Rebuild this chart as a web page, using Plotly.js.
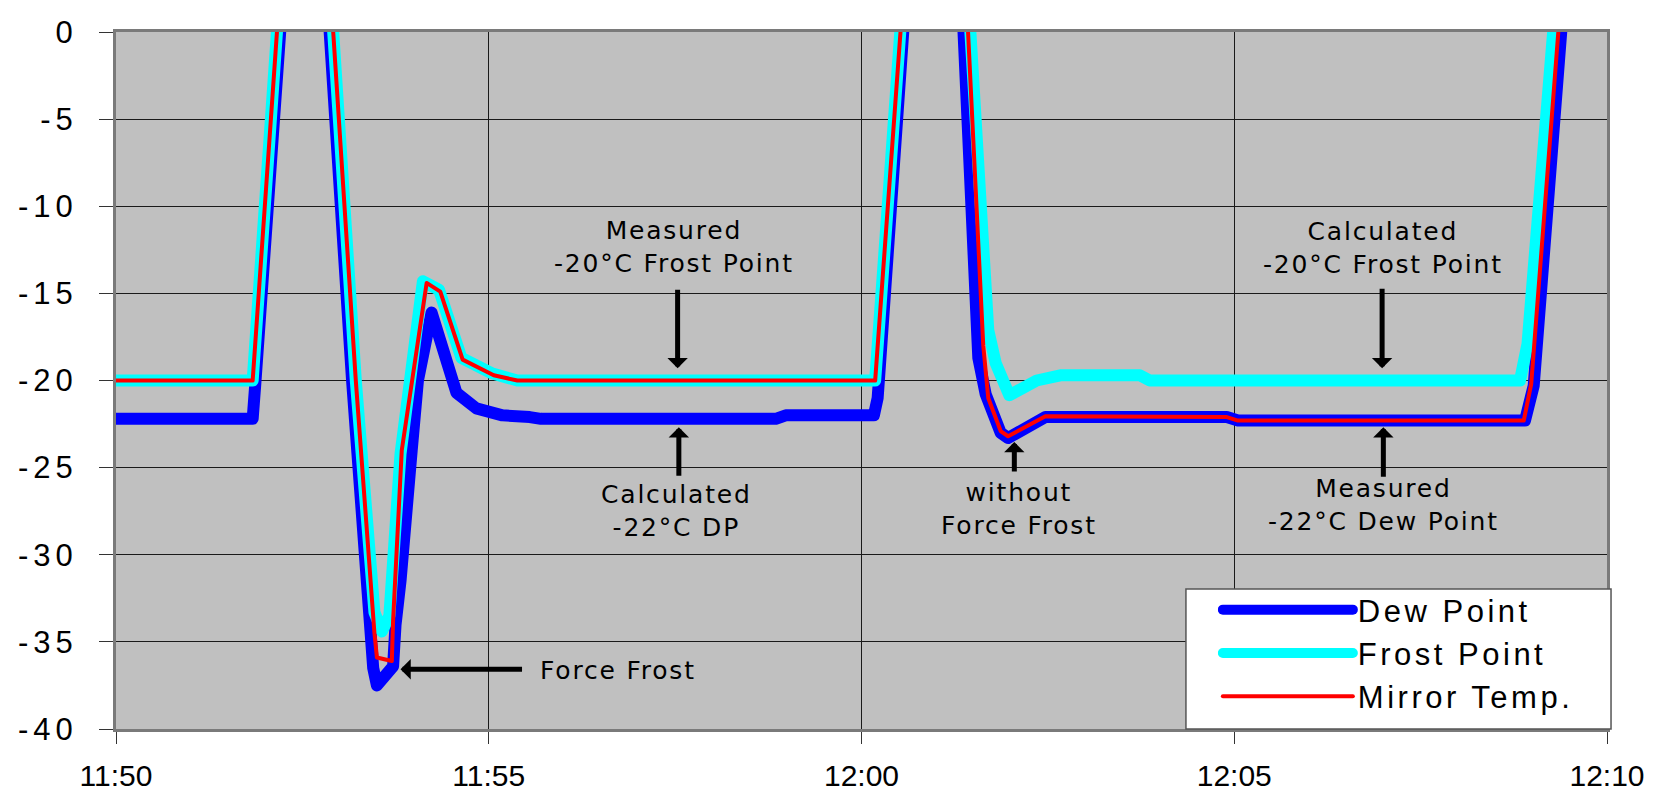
<!DOCTYPE html>
<html><head><meta charset="utf-8">
<script src="https://cdn.plot.ly/plotly-3.0.1.min.js"></script>
<style>
html,body{margin:0;padding:0;background:#fff;}
#chart{width:1654px;height:796px;}
.legendtext{letter-spacing:3.5px;}
.annotation-text{letter-spacing:1.8px;}
.ytick text{letter-spacing:5px;}
.scatterlayer .js-line{stroke-linejoin:round;}
.legendlines path{stroke-linecap:round;}
</style></head><body><div id="chart"></div>
<script>
const DAY = '2024-01-01 ';

// Dew Point (blue)
const dewTimes = ['11:50:00','11:51:50','11:51:52','11:52:33','11:53:10','11:53:24','11:53:27','11:53:30','11:53:43','11:53:45','11:53:49','11:53:58','11:54:03','11:54:14','11:54:26','11:54:34','11:54:50','11:55:11','11:55:33','11:55:42','11:58:51','11:58:59','12:00:10','12:00:13','12:01:03','12:01:34','12:01:40','12:01:43','12:01:52','12:01:58','12:02:28','12:04:54','12:05:03','12:08:54','12:09:01','12:09:57'];
const dewValues = [-22.2,-22.2,-20.3,21,-20.0,-34.5,-36.5,-37.5,-36.4,-34.0,-31.5,-24.0,-20.0,-16.1,-18.8,-20.7,-21.6,-22.0,-22.1,-22.2,-22.2,-22.0,-22.0,-21.0,30,-18.7,-20.8,-21.4,-23.0,-23.3,-22.1,-22.1,-22.3,-22.3,-20.3,31];

// Frost Point (cyan)
const frostTimes = ['11:50:00','11:51:50','11:52:33','11:53:13','11:53:28','11:53:34','11:53:40','11:53:49','11:54:07','11:54:20','11:54:38','11:55:03','11:55:23','12:00:11','12:01:02','12:01:42','12:01:48','12:01:59','12:02:21','12:02:40','12:03:44','12:03:52','12:08:50','12:08:56','12:09:57'];
const frostValues = [-20,-20,24,-20,-33.3,-34.4,-33.5,-24.2,-14.3,-14.8,-18.7,-19.6,-20.0,-20.0,30.5,-17.1,-19.0,-20.85,-20.0,-19.7,-19.7,-20.0,-20.0,-17.9,35];

// Mirror Temp. (red)
const mirrorTimes = ['11:50:00','11:51:50','11:52:33','11:53:13','11:53:28','11:53:30','11:53:42','11:53:43','11:53:50','11:54:10','11:54:21','11:54:39','11:55:04','11:55:23','12:00:11','12:01:04','12:01:38','12:01:42','12:01:52','12:01:58','12:02:28','12:04:54','12:05:03','12:08:53','12:08:59','12:09:57'];
const mirrorValues = [-20,-20,24,-20,-34.5,-35.9,-36.1,-33.8,-24.0,-14.4,-14.9,-18.8,-19.7,-20.0,-20.0,32,-18.0,-21.0,-22.9,-23.2,-22.05,-22.1,-22.3,-22.3,-20.2,33.5];

const seriesNames = ['Dew Point','Frost Point','Mirror Temp.'];
const yTicks = [0,-5,-10,-15,-20,-25,-30,-35,-40];
const yTickLabels = ['0','-5','-10','-15','-20','-25','-30','-35','-40'];
const xTickTimes = ['11:50','11:55','12:00','12:05','12:10'];

// Annotation texts and anchor positions (time, value)
const noteTexts = ['Measured<br>-20°C Frost Point','Calculated<br>-22°C DP','without<br>Force Frost','Calculated<br>-20°C Frost Point','Measured<br>-22°C Dew Point','Force Frost'];
const noteTimes = ['11:57:29','11:57:31','12:02:07','12:07:00','12:07:00','11:55:40'];
const noteValues = [-12.35,-27.47,-27.36,-12.37,-27.15,-36.62];
const arrowTimes = ['11:57:32','11:57:33','12:02:03','12:06:59','12:07:00','11:53:49'];
const arrowValues = [-19.3,-22.68,-23.53,-19.3,-22.68,-36.57];
const arrowDx = [0,0,0,0,0,123];
const arrowDy = [-80,50,31,-81,51,0];

const ts = a => a.map(t => DAY + t);

const traces = [
  {x: ts(dewTimes), y: dewValues, name: seriesNames[0], type:'scatter', mode:'lines', line:{color:'#0000FF', width:12}},
  {x: ts(frostTimes), y: frostValues, name: seriesNames[1], type:'scatter', mode:'lines', line:{color:'#00FFFF', width:12}},
  {x: ts(mirrorTimes), y: mirrorValues, name: seriesNames[2], type:'scatter', mode:'lines', line:{color:'#FF0000', width:4}}
];

const annFont = {family:'DejaVu Sans, Verdana, sans-serif', size:25, color:'#000'};
const annotations = [];
noteTexts.forEach((t,i) => {
  annotations.push({x: DAY+noteTimes[i], y: noteValues[i], xref:'x', yref:'y', text:t, showarrow:false,
    xanchor: i===5 ? 'left' : 'center', yanchor:'middle', align:'center', font:annFont});
  annotations.push({x: DAY+arrowTimes[i], y: arrowValues[i], xref:'x', yref:'y', text:'', showarrow:true,
    ax: arrowDx[i], ay: arrowDy[i], arrowhead:1, arrowwidth:5, arrowsize:0.68, arrowcolor:'#000', standoff:0});
});

const yTickFont = {family:'Liberation Sans, Arial, sans-serif', size:31, color:'#000'};
const xTickFont = {family:'Liberation Sans, Arial, sans-serif', size:30, color:'#000'};

const layout = {
  width:1654, height:796,
  margin:{l:116, r:47, t:32, b:67, pad:0},
  paper_bgcolor:'#FFFFFF', plot_bgcolor:'#C0C0C0',
  showlegend:true,
  legend:{x:0.739, xanchor:'left', y:0.2095, yanchor:'top', bgcolor:'rgba(0,0,0,0)', borderwidth:0,
    font:{family:'Liberation Sans, Arial, sans-serif', size:31, color:'#000'}, itemwidth:130, tracegroupgap:0},
  xaxis:{type:'date', range:[DAY+'11:50:00', DAY+'12:10:00'],
    tickvals: ts(xTickTimes), tickformat:'%H:%M',
    ticks:'outside', ticklen:12, tickwidth:1, tickcolor:'#333',
    showgrid:true, gridcolor:'#1a1a1a', gridwidth:1,
    showline:true, linecolor:'#7a7a7a', linewidth:3, mirror:true, zeroline:false,
    tickfont:xTickFont, ticklabelstandoff:6, fixedrange:true},
  yaxis:{range:[-40,0], tickvals:yTicks, ticktext:yTickLabels,
    ticks:'outside', ticklen:14, tickwidth:1, tickcolor:'#333',
    showgrid:true, gridcolor:'#1a1a1a', gridwidth:1,
    showline:true, linecolor:'#7a7a7a', linewidth:3, mirror:true, zeroline:false,
    tickfont:yTickFont, ticklabelstandoff:15, fixedrange:true},
  shapes:[{type:'rect', xref:'paper', yref:'paper', x0:0.7176, x1:1.0027, y0:0, y1:0.2009,
    fillcolor:'#FFFFFF', line:{color:'#555', width:1.5}, layer:'above'}],
  annotations: annotations,
  hovermode:false
};

Plotly.newPlot('chart', traces, layout, {staticPlot:true, displayModeBar:false});
</script></body></html>
